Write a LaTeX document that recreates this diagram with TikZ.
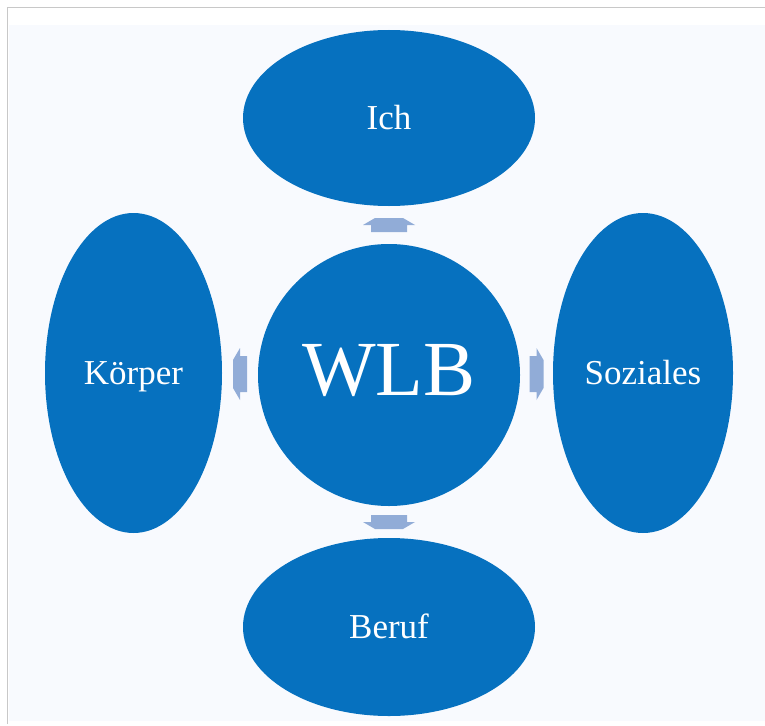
\documentclass[tikz,border=0pt]{standalone}
\usepackage{fontspec}
\setmainfont{Liberation Serif}
\usetikzlibrary{shapes.geometric,calc}
\definecolor{bluefill}{RGB}{6,113,191}
\definecolor{arrowc}{RGB}{145,172,215}
\definecolor{tint}{RGB}{248,250,254}
\definecolor{framec}{RGB}{200,200,200}
\tikzset{
  bubble/.style={ellipse, fill=bluefill, draw=none, inner sep=0pt, text=white,
    font=\fontsize{35}{40}\selectfont, text height=23pt, text depth=0pt},
  hub/.style={circle, fill=bluefill, draw=none, inner sep=0pt, text=white,
    minimum size=262pt, font=\fontsize{78}{90}\selectfont, text height=51.6pt, text depth=11pt},
  blockarrow/.style={fill=arrowc, draw=none}
}
\begin{document}
\begin{tikzpicture}[x=1pt,y=-1pt]
\useasboundingbox (0,0) rectangle (765,725);
\fill[white] (0,0) rectangle (765,725);
\fill[tint] (9,25) rectangle (765,721);
\draw[framec, line width=1.5pt] (7.5,724) -- (7.5,7.5) -- (765,7.5);

\node[hub] (wlb) at (389,375) {WLB};
\node[bubble, minimum width=292pt, minimum height=176pt] (ich) at (389,118) {Ich};
\node[bubble, minimum width=292pt, minimum height=178pt] (beruf) at (389,627) {Beruf};
\node[bubble, minimum width=177pt, minimum height=320pt] (koerper) at (133.5,373) {Körper};
\node[bubble, minimum width=180pt, minimum height=320pt] (soziales) at (643,373) {Soziales};

\coordinate (aT) at ($(wlb.north)!0.5!(ich.south)$);
\coordinate (aB) at ($(wlb.south)!0.5!(beruf.north)$);
\coordinate (aL) at ($(wlb.west)!0.5!(koerper.east)$);
\coordinate (aR) at ($(wlb.east)!0.5!(soziales.west)$);

\foreach \c/\r in {aT/90, aB/270, aL/180, aR/0}{
  \begin{scope}[shift={(\c)}, rotate=\r]
    \fill[blockarrow] (-7,-18) -- (0,-18) -- (0,-26) -- (7,-14) -- (7,14) -- (0,26) -- (0,18) -- (-7,18) -- cycle;
  \end{scope}
}
\end{tikzpicture}
\end{document}
